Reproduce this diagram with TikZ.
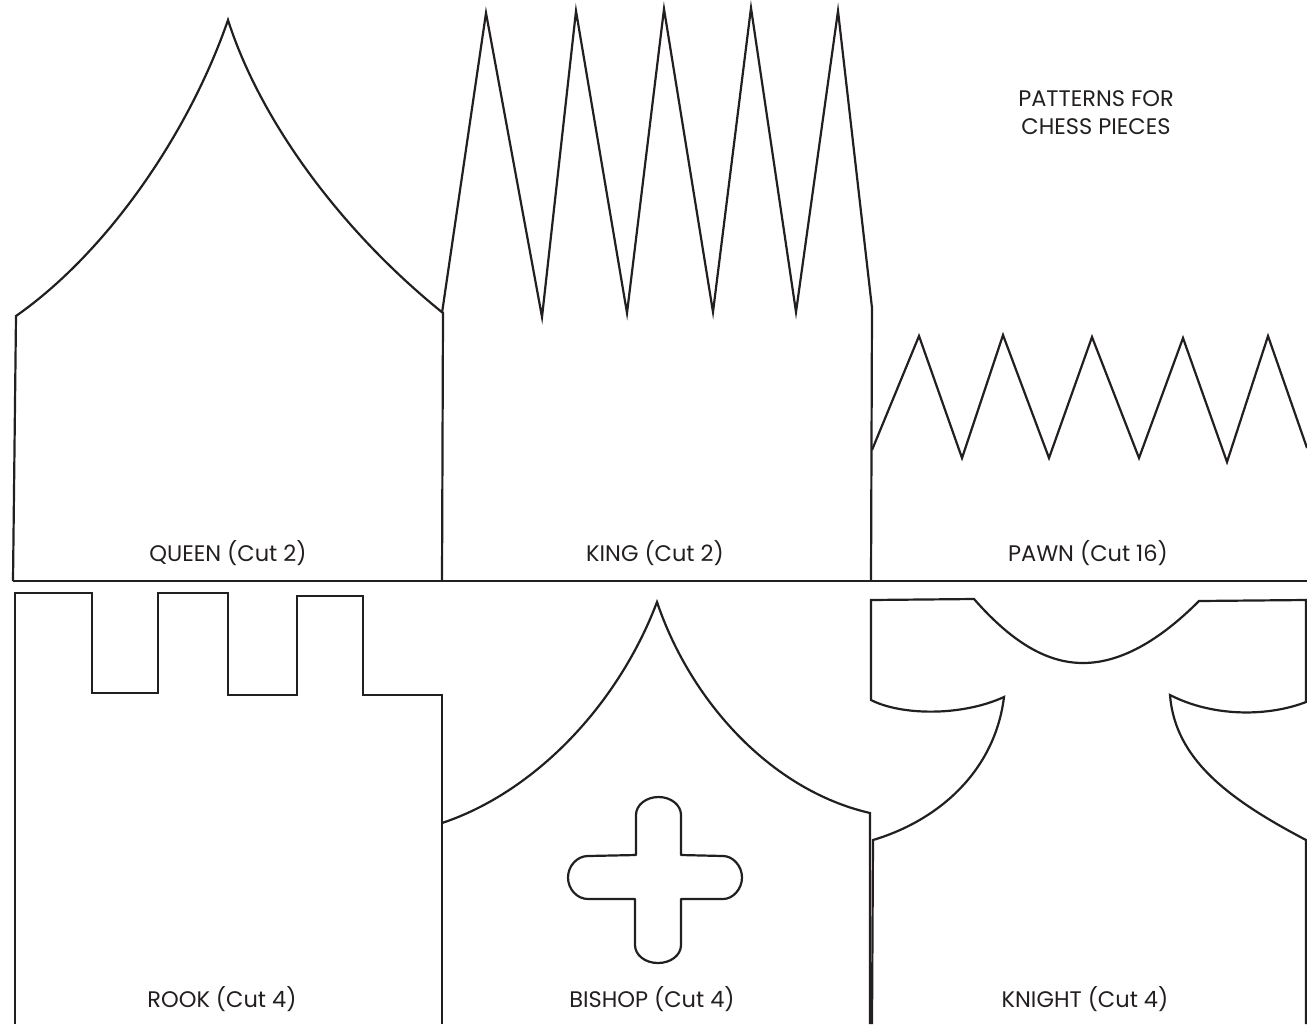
\documentclass[tikz,border=0pt]{standalone}
\usepackage{fontspec}
\setmainfont{Poppins}
\definecolor{ink}{HTML}{231F20}
\begin{document}
\begin{tikzpicture}[x=1bp,y=-1bp,
  piece/.style={draw=ink,line width=2.2bp,line join=miter},
  lbl/.style={anchor=base,inner sep=0pt,text=ink,font=\fontsize{22.5bp}{28bp}\selectfont}]
\useasboundingbox (0,0) rectangle (1307,1024);
% queen
\draw[piece] (13,581) -- (16,316) .. controls (110,250) and (190,130) .. (228,20)
  .. controls (260,120) and (340,230) .. (443,313) -- (442,581);
% divider
\draw[piece] (13,581) -- (1307,581);
% king
\draw[piece] (442,313) -- (486,13) -- (542,317) -- (576,11) -- (627,313) -- (664,9)
  -- (713,312) -- (751,8) -- (796,312) -- (838,11) -- (872,308) -- (871,581);
% pawn
\draw[piece] (872,450) -- (919,336) -- (962,458) -- (1003,335) -- (1049,458) -- (1092,337)
  -- (1139,458) -- (1183,338) -- (1227,462) -- (1268,336) -- (1307,448);
% rook
\draw[piece] (15,1024) -- (15,593) -- (92,593) -- (92,693) -- (158,693) -- (158,593)
  -- (228,593) -- (228,695) -- (297,695) -- (297,596) -- (363,596) -- (363,695)
  -- (442,695) -- (442,1024);
% bishop
\draw[piece] (442,823) .. controls (535,792) and (618,705) .. (657,602)
  .. controls (690,700) and (770,790) .. (870,813) -- (870,1024);
% cross
\draw[piece,line join=round] (636,855) -- (636,815)
  .. controls (636,805) and (646,797) .. (658.5,797)
  .. controls (671,797) and (681,805) .. (681,815)
  -- (681,855) -- (723,856)
  .. controls (733,856) and (742,866) .. (742,877.5)
  .. controls (742,889) and (733,899) .. (723,899)
  -- (681,899) -- (681,945)
  .. controls (681,955) and (671,963) .. (658,963)
  .. controls (645,963) and (635,955) .. (635,945)
  -- (635,899) -- (588,899)
  .. controls (577,899) and (568,889) .. (568,877.5)
  .. controls (568,866) and (577,856) .. (588,856) -- cycle;
% knight
\draw[piece] (872,1024) -- (873,840) .. controls (940,820) and (995,770) .. (1004,697)
  .. controls (960,717) and (900,715) .. (871,700) -- (871,600) -- (974,599)
  .. controls (1010,640) and (1045,663) .. (1083,663)
  .. controls (1125,663) and (1165,635) .. (1199,601) -- (1306,600) -- (1306,702)
  .. controls (1270,716) and (1215,718) .. (1170,695)
  .. controls (1175,760) and (1230,800) .. (1306,840) -- (1306,1024);
% labels
\node[lbl] (lq) at (228,561) {QUEEN (Cut 2)};
\node[lbl] (lk) at (655,561) {KING (Cut 2)};
\node[lbl] (lp) at (1088,561) {PAWN (Cut 16)};
\node[lbl] (lr) at (222,1007) {ROOK (Cut 4)};
\node[lbl] (lb) at (652,1007) {BISHOP (Cut 4)};
\node[lbl] (ln) at (1085,1007) {KNIGHT (Cut 4)};
\node[lbl,align=center] (title) at (1096,134) {PATTERNS FOR\\CHESS PIECES};
\end{tikzpicture}
\end{document}
